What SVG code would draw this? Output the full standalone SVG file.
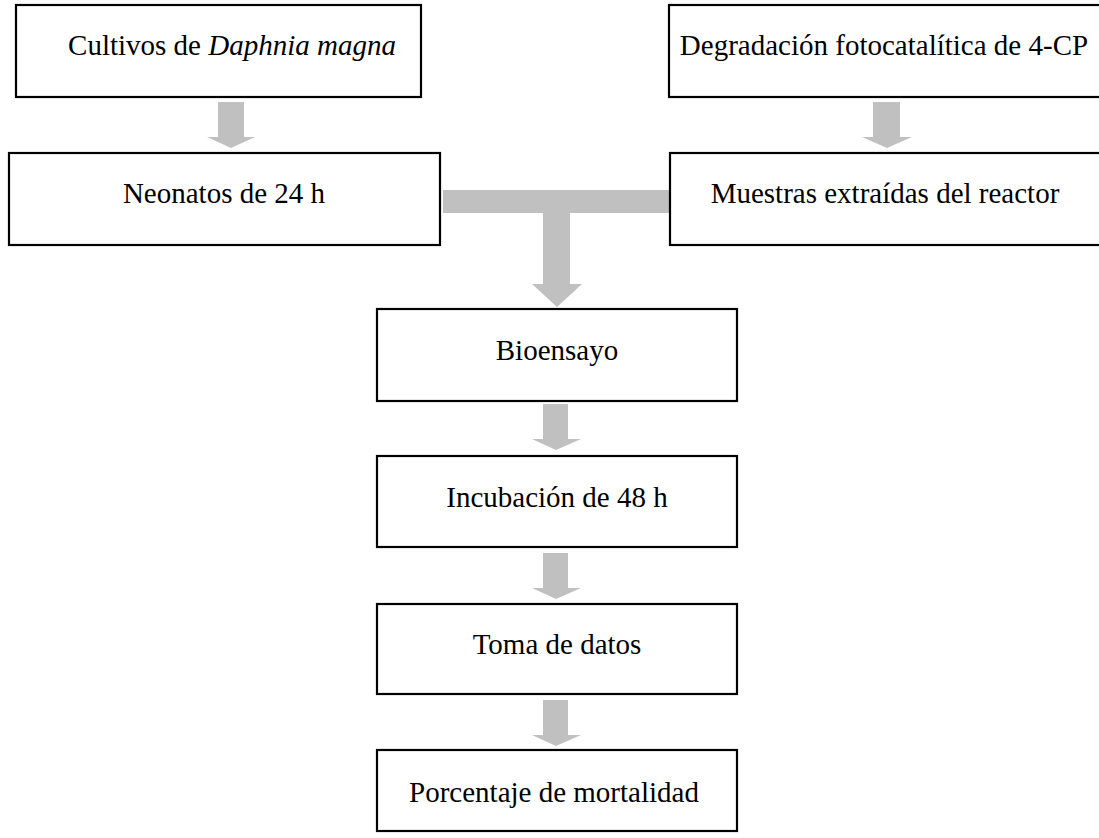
<svg xmlns="http://www.w3.org/2000/svg" width="1099" height="838" viewBox="0 0 1099 838">
<style>
.box{fill:#fff;stroke:#000;stroke-width:2.2}
.t{font-family:"Liberation Serif","Times New Roman",serif;font-size:29px;fill:#000;text-anchor:middle}
.ar{fill:#c0c0c0}
</style>
<rect width="1099" height="838" fill="#fff"/>
<g id="connectors">
<polygon class="ar" points="218,102 244,102 244,137 255,137 231,148 207,137 218,137"/>
<polygon class="ar" points="873,102 900,102 900,137 912,137 887,148 862,137 873,137"/>
<polygon class="ar" points="443,190 669,190 669,213 570,213 570,284 582,284 557,307 532,284 543,284 543,213 443,213"/>
<polygon class="ar" points="543,404 568,404 568,439 581,439 556,450 532,439 543,439"/>
<polygon class="ar" points="543,553 568,553 568,588 581,588 556,599 532,588 543,588"/>
<polygon class="ar" points="543,700 568,700 568,735 581,735 556,746 532,735 543,735"/>
</g>
<g id="n1"><rect class="box" x="16" y="5" width="405" height="92"/><text class="t" x="232" y="55">Cultivos de <tspan font-style="italic">Daphnia magna</tspan></text></g>
<g id="n2"><rect class="box" x="9" y="153" width="431" height="92"/><text class="t" x="224" y="203">Neonatos de 24 h</text></g>
<g id="n3"><rect class="box" x="669" y="5" width="440" height="92"/><text class="t" x="884" y="55">Degradación fotocatalítica de 4-CP</text></g>
<g id="n4"><rect class="box" x="670" y="153" width="440" height="92"/><text class="t" x="885" y="203">Muestras extraídas del reactor</text></g>
<g id="n5"><rect class="box" x="377" y="309" width="360" height="92"/><text class="t" x="557" y="360">Bioensayo</text></g>
<g id="n6"><rect class="box" x="377" y="456" width="360" height="91"/><text class="t" x="557" y="507">Incubación de 48 h</text></g>
<g id="n7"><rect class="box" x="377" y="604" width="360" height="90"/><text class="t" x="557" y="654">Toma de datos</text></g>
<g id="n8"><rect class="box" x="377" y="750" width="360" height="81"/><text class="t" x="554" y="802">Porcentaje de mortalidad</text></g>
</svg>
